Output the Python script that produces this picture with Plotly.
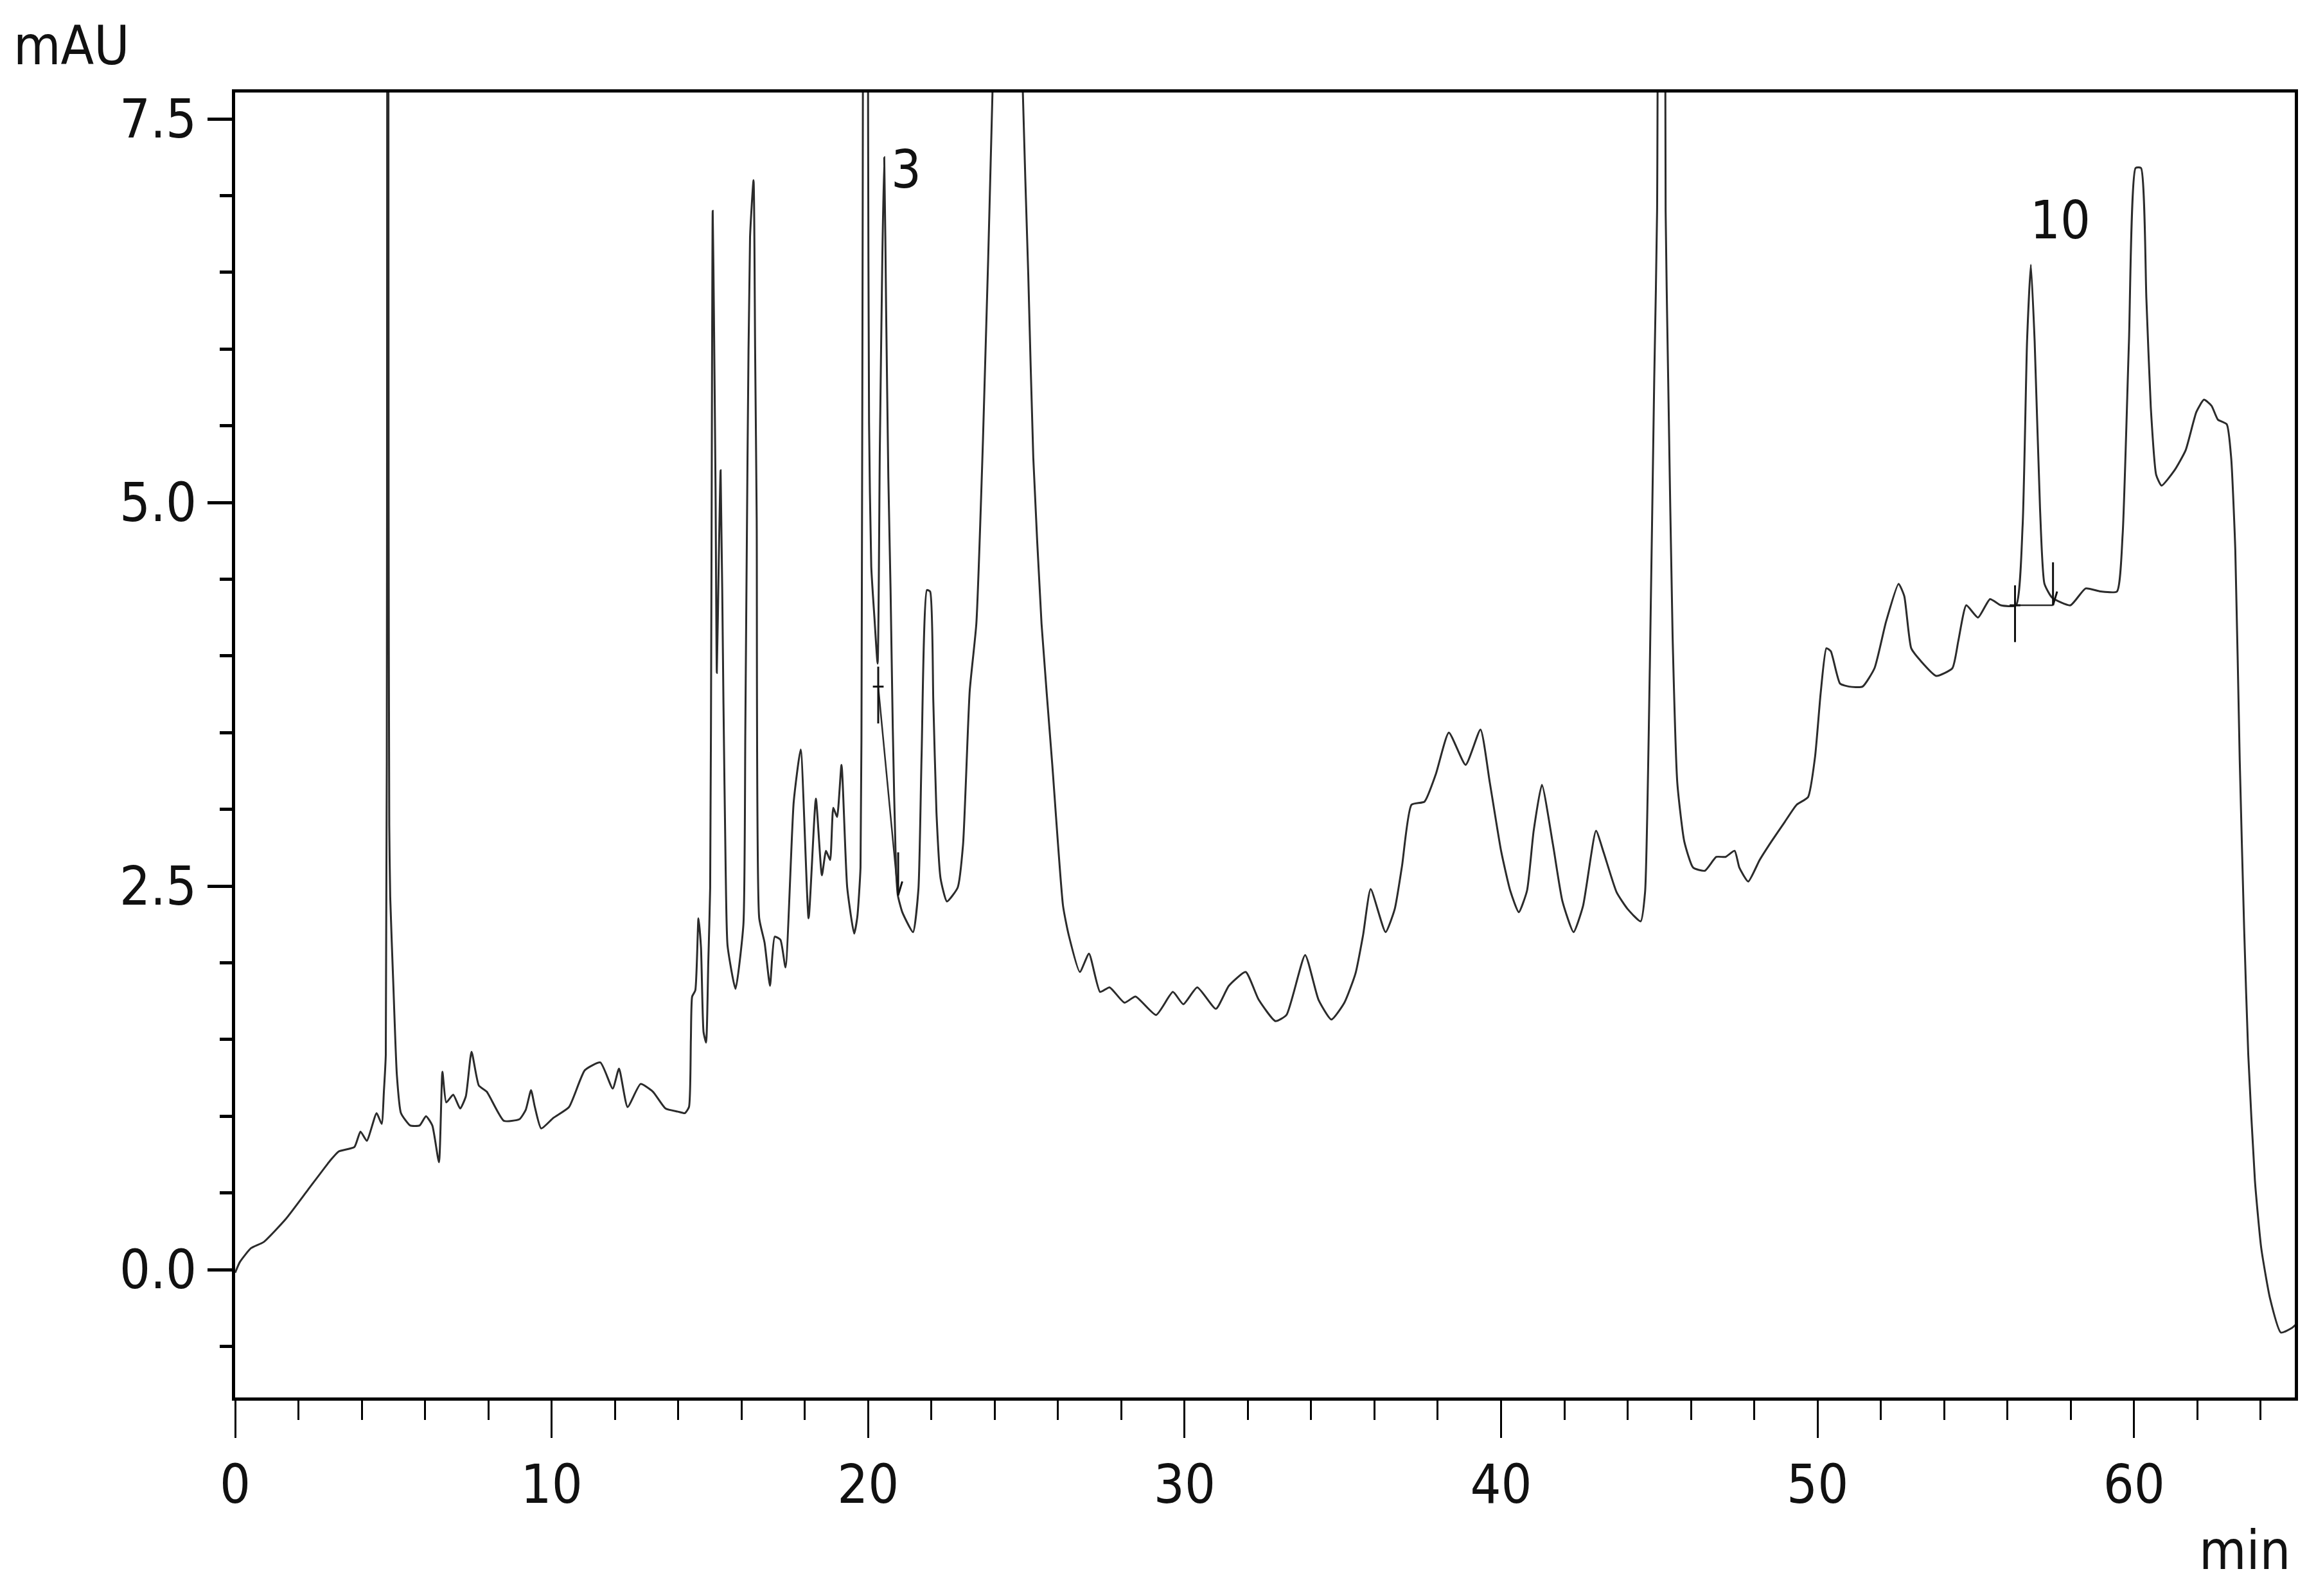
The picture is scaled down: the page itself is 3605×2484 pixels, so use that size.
import plotly.graph_objects as go

# Retention time (min) and absorbance (mAU)
time_min = [
    0.0, 0.15, 0.5, 0.9, 1.6, 2.3, 3.0, 3.27, 3.77, 3.96, 4.16, 4.47, 4.63, 4.70,
    4.76, 4.80, 4.82, 4.85, 4.87, 4.90, 5.00, 5.11, 5.24, 5.53, 5.83, 6.03, 6.23,
    6.44, 6.55, 6.67, 6.89, 7.11, 7.29, 7.47, 7.70, 7.95, 8.49, 8.98, 9.18, 9.35,
    9.47, 9.67, 10.06, 10.55, 11.05, 11.54, 11.93, 12.13, 12.40, 12.81, 13.2, 13.6,
    13.99, 14.21, 14.34, 14.40, 14.44, 14.54, 14.64, 14.72, 14.80, 14.88, 14.95,
    15.01, 15.05, 15.09, 15.13, 15.18, 15.22, 15.28, 15.34, 15.43, 15.50, 15.56,
    15.81, 16.06, 16.12, 16.19, 16.27, 16.38, 16.43, 16.48, 16.56, 16.73, 16.90,
    17.05, 17.23, 17.39, 17.65, 17.87, 18.12, 18.35, 18.54, 18.67, 18.80, 18.90,
    19.02, 19.16, 19.34, 19.56, 19.66, 19.76, 19.80, 19.83, 19.92, 20.00, 20.03,
    20.10, 20.20, 20.30, 20.37, 20.45, 20.51, 20.57, 20.64, 20.71, 20.78, 20.88,
    20.94, 21.08, 21.42, 21.59, 21.69, 21.86, 21.96, 22.06, 22.16, 22.29, 22.49,
    22.83, 23.0, 23.21, 23.42, 23.63, 23.93, 24.40,
    24.89, 25.06, 25.22, 25.48, 25.82, 26.16, 26.34, 26.69, 26.98, 27.33, 27.63,
    28.10, 28.45, 29.10, 29.63, 29.96, 30.40, 30.99, 31.40, 31.93, 32.34, 32.87,
    33.22, 33.81, 34.23, 34.64, 35.05, 35.40, 35.64, 35.88, 36.35, 36.64, 36.87,
    37.17, 37.58, 37.94, 38.35, 38.88, 39.35, 39.64, 40.0, 40.29, 40.56, 40.82,
    41.03, 41.29, 41.64, 41.94, 42.29, 42.59, 43.0, 43.24, 43.65, 44.0, 44.41,
    44.55, 44.70, 44.84, 44.93, 45.06, 45.20, 45.28, 45.42, 45.57, 45.79, 46.07,
    46.44, 46.80, 47.09, 47.38, 47.53, 47.81, 48.17, 48.54, 48.97, 49.34, 49.70,
    49.92, 50.10, 50.28, 50.42, 50.71, 51.0, 51.42, 51.80, 52.16, 52.56, 52.74,
    52.96, 53.25, 53.75, 54.26, 54.45, 54.70, 55.07, 55.45, 55.79, 56.27, 56.48,
    56.62, 56.74, 56.86, 57.03, 57.17, 57.41, 57.99, 58.47, 58.95, 59.46, 59.64,
    59.84, 60.05, 60.22, 60.39, 60.53, 60.70, 60.87, 61.28, 61.63, 61.97, 62.21,
    62.45, 62.65, 62.93, 63.07, 63.20, 63.34, 63.48, 63.61, 63.82, 64.02, 64.30,
    64.64, 64.99, 65.1,
]
absorbance_mau = [
    -0.02, 0.05, 0.14, 0.18, 0.33, 0.52, 0.71, 0.77, 0.80, 0.90, 0.84, 1.02, 0.95, 1.16,
    1.40, 5.0, 20.0, 5.0, 2.9, 2.43, 1.85, 1.27, 1.02, 0.94, 0.94, 1.00, 0.94,
    0.70, 1.29, 1.09, 1.14, 1.05, 1.13, 1.42, 1.20, 1.16, 0.97, 0.98, 1.04, 1.17,
    1.06, 0.92, 0.99, 1.06, 1.30, 1.35, 1.18, 1.31, 1.06, 1.21, 1.16, 1.05,
    1.03, 1.02, 1.06, 1.5, 1.78, 1.82, 2.29, 2.1, 1.55, 1.48, 2.0,
    2.49, 4.5, 6.90, 6.2, 5.09, 3.89, 4.6, 5.21, 3.69, 2.6, 2.11,
    1.83, 2.25, 3.5, 5.29, 6.73, 7.10, 6.0, 4.89, 2.29, 2.13, 1.85,
    2.17, 2.15, 1.97, 3.05, 3.39, 2.29, 3.07, 2.57, 2.73, 2.67, 3.01,
    2.95, 3.29, 2.49, 2.19, 2.30, 2.62, 4.22, 6.97, 18.0, 7.5, 5.52,
    4.58, 4.25, 3.95, 5.34, 6.60, 7.25, 6.25, 5.16, 4.43, 3.53, 2.62,
    2.44, 2.33, 2.20, 2.48, 3.35, 4.43, 4.42, 3.71, 2.98, 2.55, 2.40,
    2.49, 2.77, 3.77, 4.21, 5.41, 7.67, 14.0,
    7.67, 6.49, 5.29, 4.21, 3.29, 2.37, 2.18, 1.94, 2.06, 1.81, 1.84,
    1.74, 1.78, 1.66, 1.81, 1.73, 1.84, 1.70, 1.85, 1.94, 1.76, 1.62,
    1.66, 2.05, 1.76, 1.63, 1.74, 1.93, 2.18, 2.48, 2.20, 2.35, 2.63,
    3.03, 3.05, 3.23, 3.50, 3.29, 3.52, 3.18, 2.73, 2.47, 2.33, 2.47,
    2.86, 3.16, 2.77, 2.40, 2.20, 2.37, 2.86, 2.72, 2.46, 2.35, 2.27,
    2.46, 3.92, 5.81, 6.90, 20.0, 6.90, 5.81, 4.13, 3.17, 2.79, 2.62,
    2.60, 2.69, 2.69, 2.73, 2.62, 2.53, 2.67, 2.79, 2.92, 3.03, 3.08,
    3.34, 3.76, 4.05, 4.03, 3.82, 3.80, 3.80, 3.92, 4.22, 4.47, 4.39,
    4.05, 3.97, 3.87, 3.92, 4.10, 4.33, 4.25, 4.37, 4.33, 4.33, 4.85,
    6.05, 6.55, 6.05, 4.96, 4.47, 4.38, 4.33, 4.44, 4.42, 4.42, 4.79,
    6.05, 7.18, 7.18, 6.33, 5.62, 5.18, 5.11, 5.21, 5.34, 5.59, 5.67,
    5.63, 5.54, 5.51, 5.29, 4.69, 3.32, 2.22, 1.40, 0.58, 0.14, -0.19,
    -0.41, -0.38, -0.36,
]

# Integration marks (baseline, start tick, end arrow) for labelled peaks
peak_labels = ["3", "10"]
peak_label_time = [21.2, 57.67]
peak_label_mau = [7.17, 6.84]
peak_start_time = [20.32, 56.24]
peak_start_mau = [3.80, 4.33]
peak_end_time = [20.95, 57.44]
peak_end_mau = [2.44, 4.33]

x_ticks = [0, 10, 20, 30, 40, 50, 60]
y_ticks = [0.0, 2.5, 5.0, 7.5]

FONT = "DejaVu Sans Condensed, Liberation Sans Narrow, Arial Narrow, sans-serif"
INK = "#111111"
TRACE = "#2b2b2b"

fig = go.Figure()
fig.add_trace(go.Scatter(
    x=time_min, y=absorbance_mau, mode="lines",
    line=dict(color=TRACE, width=3, shape="spline", smoothing=0.5),
    showlegend=False, hoverinfo="skip",
))

for i in range(len(peak_labels)):
    ts, vs = peak_start_time[i], peak_start_mau[i]
    te, ve = peak_end_time[i], peak_end_mau[i]
    # baseline
    fig.add_trace(go.Scatter(x=[ts, te], y=[vs, ve], mode="lines",
                             line=dict(color=TRACE, width=2.5), showlegend=False, hoverinfo="skip"))
    # start tick "+"
    fig.add_trace(go.Scatter(x=[ts, ts, None, ts - 0.17, ts + 0.17],
                             y=[vs + 0.13, vs - 0.24, None, vs, vs],
                             mode="lines", line=dict(color=INK, width=3),
                             showlegend=False, hoverinfo="skip"))
    # end arrow
    fig.add_trace(go.Scatter(x=[te, te, None, te, te + 0.13],
                             y=[ve + 0.28, ve, None, ve, ve + 0.09],
                             mode="lines", line=dict(color=INK, width=3),
                             showlegend=False, hoverinfo="skip"))
    fig.add_annotation(x=peak_label_time[i], y=peak_label_mau[i], text=peak_labels[i],
                       showarrow=False, font=dict(family=FONT, size=82, color=INK),
                       xanchor="center", yanchor="middle")

fig.add_annotation(x=-0.0795, y=1.036, xref="paper", yref="paper", text="mAU",
                   showarrow=False, font=dict(family=FONT, size=84, color=INK),
                   xanchor="center", yanchor="middle")
fig.add_annotation(x=0.9988, y=-0.117, xref="paper", yref="paper", text="min",
                   showarrow=False, font=dict(family=FONT, size=84, color=INK),
                   xanchor="right", yanchor="middle")

fig.update_layout(
    width=3605, height=2484,
    margin=dict(l=358, r=41, t=136, b=317),
    paper_bgcolor="white", plot_bgcolor="white",
    font=dict(family=FONT, color=INK),
)
fig.update_xaxes(
    range=[0, 65.08], tickvals=x_ticks, ticktext=[str(v) for v in x_ticks],
    ticks="outside", ticklen=58, tickwidth=3, tickcolor="black",
    minor=dict(dtick=2, tick0=0, ticks="outside", ticklen=30, tickwidth=3, tickcolor="black"),
    showline=True, linewidth=5, linecolor="black", mirror=True,
    showgrid=False, zeroline=False,
    tickfont=dict(family=FONT, size=84, color=INK),
)
fig.update_yaxes(
    range=[-0.833, 7.672], tickvals=y_ticks, ticktext=["%.1f" % v for v in y_ticks],
    ticks="outside", ticklen=38, tickwidth=5, tickcolor="black",
    minor=dict(dtick=0.5, tick0=0, ticks="outside", ticklen=19, tickwidth=5, tickcolor="black"),
    showline=True, linewidth=5, linecolor="black", mirror=True,
    showgrid=False, zeroline=False,
    tickfont=dict(family=FONT, size=84, color=INK),
)

fig.write_html("out.html")
